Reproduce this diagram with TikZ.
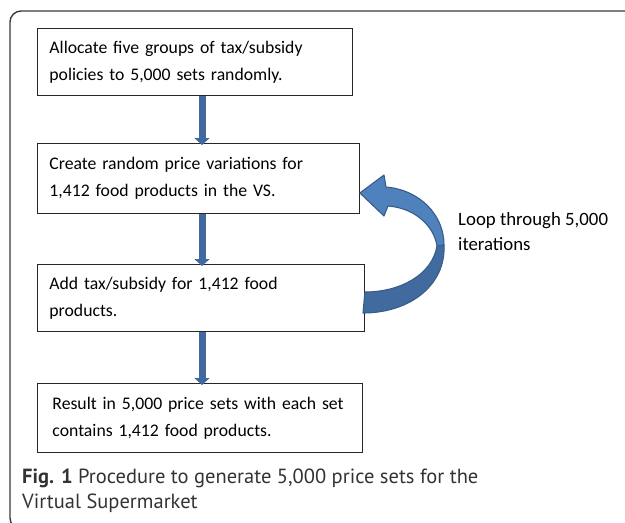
\documentclass[tikz,border=0pt]{standalone}
\usepackage{fontspec}
\setmainfont{Carlito}
\newfontfamily\capfont{PT Sans}
\usetikzlibrary{arrows.meta}
\definecolor{arrowblue}{HTML}{4169A0}
\definecolor{lightblue}{HTML}{4F81BD}
\definecolor{darkblue}{HTML}{416B9F}
\definecolor{edgeblue}{HTML}{385D8A}
\definecolor{framegray}{HTML}{3A3A3A}
\tikzset{
  stepbox/.style={draw=black!85, line width=0.9pt, anchor=north west, inner xsep=12pt, inner ysep=0pt,
    align=left, font=\fontsize{17.7}{27}\selectfont},
  downarrow/.style={draw=arrowblue, line width=7pt, -{Triangle[width=15pt,length=7pt]}},
  looptext/.style={anchor=base west, inner sep=0pt, font=\fontsize{18.8}{25}\selectfont},
  captext/.style={anchor=base west, inner sep=0pt, font=\capfont\fontsize{20.5}{25}\selectfont, text=black!80},
  bandpart/.style={draw=edgeblue, line width=1.1pt, line join=round}
}
\begin{document}
\begin{tikzpicture}[x=1pt,y=-1pt]
\useasboundingbox (0,0) rectangle (625,523);
% outer frame
\draw[framegray, line width=1.4pt, rounded corners=11pt] (660,529) -- (10,529) -- (10,11) -- (660,11);
% boxes
\node[stepbox, minimum width=315pt, minimum height=67pt, text width=291pt] (b1) at (37,28)
  {\mbox{Allocate five groups of tax/subsidy}\\\mbox{policies to 5,000 sets randomly.}};
\node[stepbox, minimum width=322pt, minimum height=70pt, text width=298pt] (b2) at (37,143)
  {\mbox{Create random price variations for}\\\mbox{1,412 food products in the VS.}};
\node[stepbox, minimum width=327pt, minimum height=67pt, text width=303pt] (b3) at (37,264)
  {\mbox{Add tax/subsidy for 1,412 food}\\\mbox{products.}};
\node[stepbox, inner xsep=15pt, minimum width=325pt, minimum height=69pt, text width=295pt] (b4) at (37,383)
  {\mbox{Result in 5,000 price sets with each set}\\\mbox{contains 1,412 food products.}};
% straight arrows
\coordinate (ax) at (202,0);
\draw[downarrow] (b1.south -| ax) -- ([yshift=-2pt]b2.north -| ax);
\draw[downarrow] (b2.south -| ax) -- ([yshift=-2pt]b3.north -| ax);
\draw[downarrow] (b3.south -| ax) -- ([yshift=-2pt]b4.north -| ax);
% curved loop arrow
\coordinate (tip) at (b2.east |- 0,193);
\coordinate (tail) at (b3.east |- 0,292);
\fill[darkblue, bandpart] (tail) .. controls (400,292) and (432,275) .. (437,246)
  -- (444,245) .. controls (446,285) and (410,313) .. (363,313) -- cycle;
\fill[lightblue, bandpart] (tip) -- (384,175) -- (386,187)
  .. controls (420,190) and (444,215) .. (444,245)
  -- (437,246) .. controls (434,226) and (415,208) .. (388,206)
  -- (384,216) -- cycle;
% labels
\node[looptext] (l1) at (458,225) {Loop through 5,000};
\node[looptext] (l2) at (458,250) {iterations};
\node[captext] (c1) at (22,483) {\textbf{Fig. 1} Procedure to generate 5,000 price sets for the};
\node[captext] (c2) at (22,508) {Virtual Supermarket};
\end{tikzpicture}
\end{document}
